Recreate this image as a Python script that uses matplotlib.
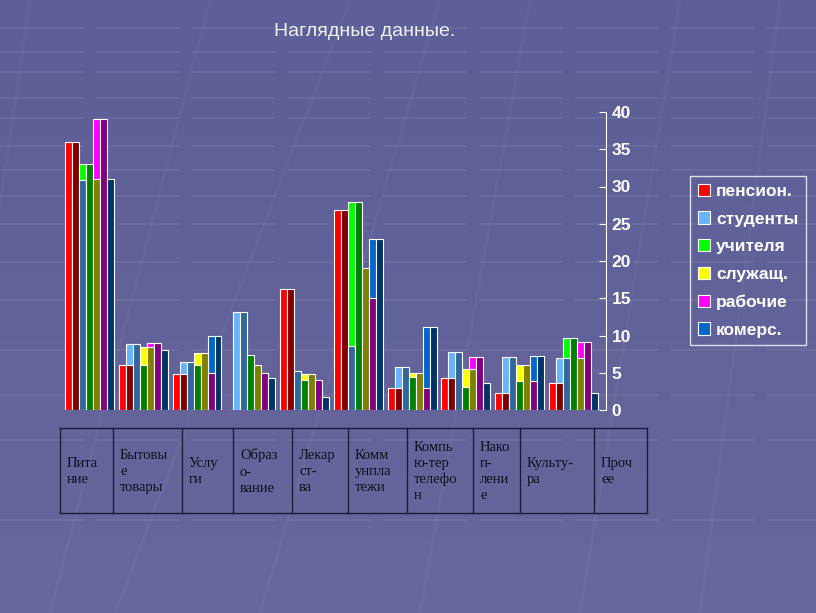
import matplotlib
matplotlib.use("Agg")
import matplotlib.pyplot as plt
import numpy as np

categories = ["Пита\nние", "Бытовы\nе\nтовары", "Услу\nги", "Образ\nо-\nвание",
              "Лекар\nст-\nва", "Комм\nунпла\nтежи", "Компь\nю-тер\nтелефо\nн",
              "Нако\nп-\nлени\nе", "Культу-\nра", "Проч\nее"]
series = ["пенсион.", "студенты", "учителя", "служащ.", "рабочие", "комерс."]
pension = [36, 6.0, 4.8, 0, 16.2, 26.8, 3.0, 4.3, 2.3, 3.6]
students = [30.9, 8.9, 6.5, 13.2, 5.2, 8.6, 5.8, 7.8, 7.1, 7.0]
teachers = [33.0, 6.0, 6.0, 7.4, 4.0, 27.9, 4.4, 3.1, 3.9, 9.7]
employees = [31.0, 8.5, 7.7, 6.0, 4.8, 19.0, 5.0, 5.5, 6.0, 7.0]
workers = [39.1, 9.0, 5.0, 5.0, 4.0, 15.1, 3.0, 7.1, 3.9, 9.1]
commerce = [31.0, 8.0, 10.0, 4.3, 1.8, 23.0, 11.2, 3.6, 7.3, 2.3]
values = [pension, students, teachers, employees, workers, commerce]

light = ["#ff0000", "#66b3ff", "#00ff00", "#ffff00", "#ff00ff", "#0066cc"]
dark = ["#800000", "#336699", "#008000", "#808000", "#800080", "#003366"]
bg = "#62629a"

fig = plt.figure(figsize=(8.16, 6.13), dpi=100)
fig.patch.set_facecolor(bg)

# decorative background lines
bga = fig.add_axes([0, 0, 1, 1], zorder=-1)
bga.set_xlim(0, 816)
bga.set_ylim(613, 0)
bga.axis("off")
grad = np.linspace(0, 1, 200).reshape(-1, 1)
bga.imshow(grad, extent=(0, 816, 613, 0), aspect="auto",
           cmap=matplotlib.colors.LinearSegmentedColormap.from_list("g", ["#5e5e98", "#67679c"]))
for y in [28, 52, 72, 98, 118, 146, 170, 196, 224, 262, 300, 350, 395, 440, 520]:
    bga.plot([0, 816], [y, y], color="white", alpha=0.06, lw=1.5, ls=(0, (40, 6)))
for x0, x1 in [(0, 150), (110, 330), (175, 470), (320, 560), (480, 650), (640, 800), (760, 900)]:
    bga.plot([x1 - 120, x0 - 60], [0, 613], color="white", alpha=0.035, lw=2)

ax = fig.add_axes([60 / 816, 1 - 410 / 613, 546 / 816, 298 / 613])
ax.set_facecolor("none")
w = 0.13
x = np.arange(len(categories))
for i in range(len(series)):
    ax.bar(x + i * w, values[i], w, align="edge", color=light[i],
           edgecolor="white", linewidth=0.8, zorder=2, label=series[i])
for i in range(len(series)):
    ax.bar(x + (i + 1) * w, values[i], w, align="edge", color=dark[i],
           edgecolor="white", linewidth=0.8, zorder=3)

ax.set_xlim(-0.093, 10.06)
ax.set_ylim(0, 40)
ax.set_xticks([])
ax.set_yticks(range(0, 41, 5))
ax.yaxis.tick_right()
ax.tick_params(axis="y", direction="in", colors="white", length=5, pad=4,
               labelsize=12.5)
for lab in ax.get_yticklabels():
    lab.set_fontweight("bold")
    lab.set_family("Liberation Sans")
for s in ["left", "top", "bottom"]:
    ax.spines[s].set_visible(False)
ax.spines["right"].set_color("white")

leg = ax.legend(loc="upper left", bbox_to_anchor=((690 - 60) / 546, 1.0 - (176 - 112) / 298),
                borderaxespad=0, frameon=True, fancybox=False, labelcolor="white",
                handlelength=0.7, handleheight=0.7, handletextpad=0.35, labelspacing=0.72,
                borderpad=0.45,
                prop={"family": "Liberation Sans", "weight": "bold", "size": 12.5})
leg.get_frame().set_facecolor("none")
leg.get_frame().set_edgecolor("white")
leg.get_frame().set_linewidth(1)

fig.text(365 / 816, 1 - 32 / 613, "Наглядные данные.", color="#f0f0f0",
         fontsize=14, family="Liberation Sans", ha="center", va="center")

# table under the chart
col_edges = [60, 113, 182, 233, 292, 348, 407, 473, 520, 594, 647]
top, bot = 428, 513
ta = fig.add_axes([0, 0, 1, 1], zorder=5)
ta.set_xlim(0, 816)
ta.set_ylim(613, 0)
ta.axis("off")
ta.plot([60, 647], [top, top], color="#1c1c3a", lw=1)
ta.plot([60, 647], [bot, bot], color="#1c1c3a", lw=1)
for xe in col_edges:
    ta.plot([xe, xe], [top, bot], color="#1c1c3a", lw=1)
for j, c in enumerate(categories):
    ta.text(col_edges[j] + 7, (top + bot) / 2 + 1, c, ha="left", va="center",
            family="Liberation Serif", fontsize=10.5, color="#10101e", linespacing=1.3)

fig.savefig("out.png", dpi=100, facecolor=bg)
